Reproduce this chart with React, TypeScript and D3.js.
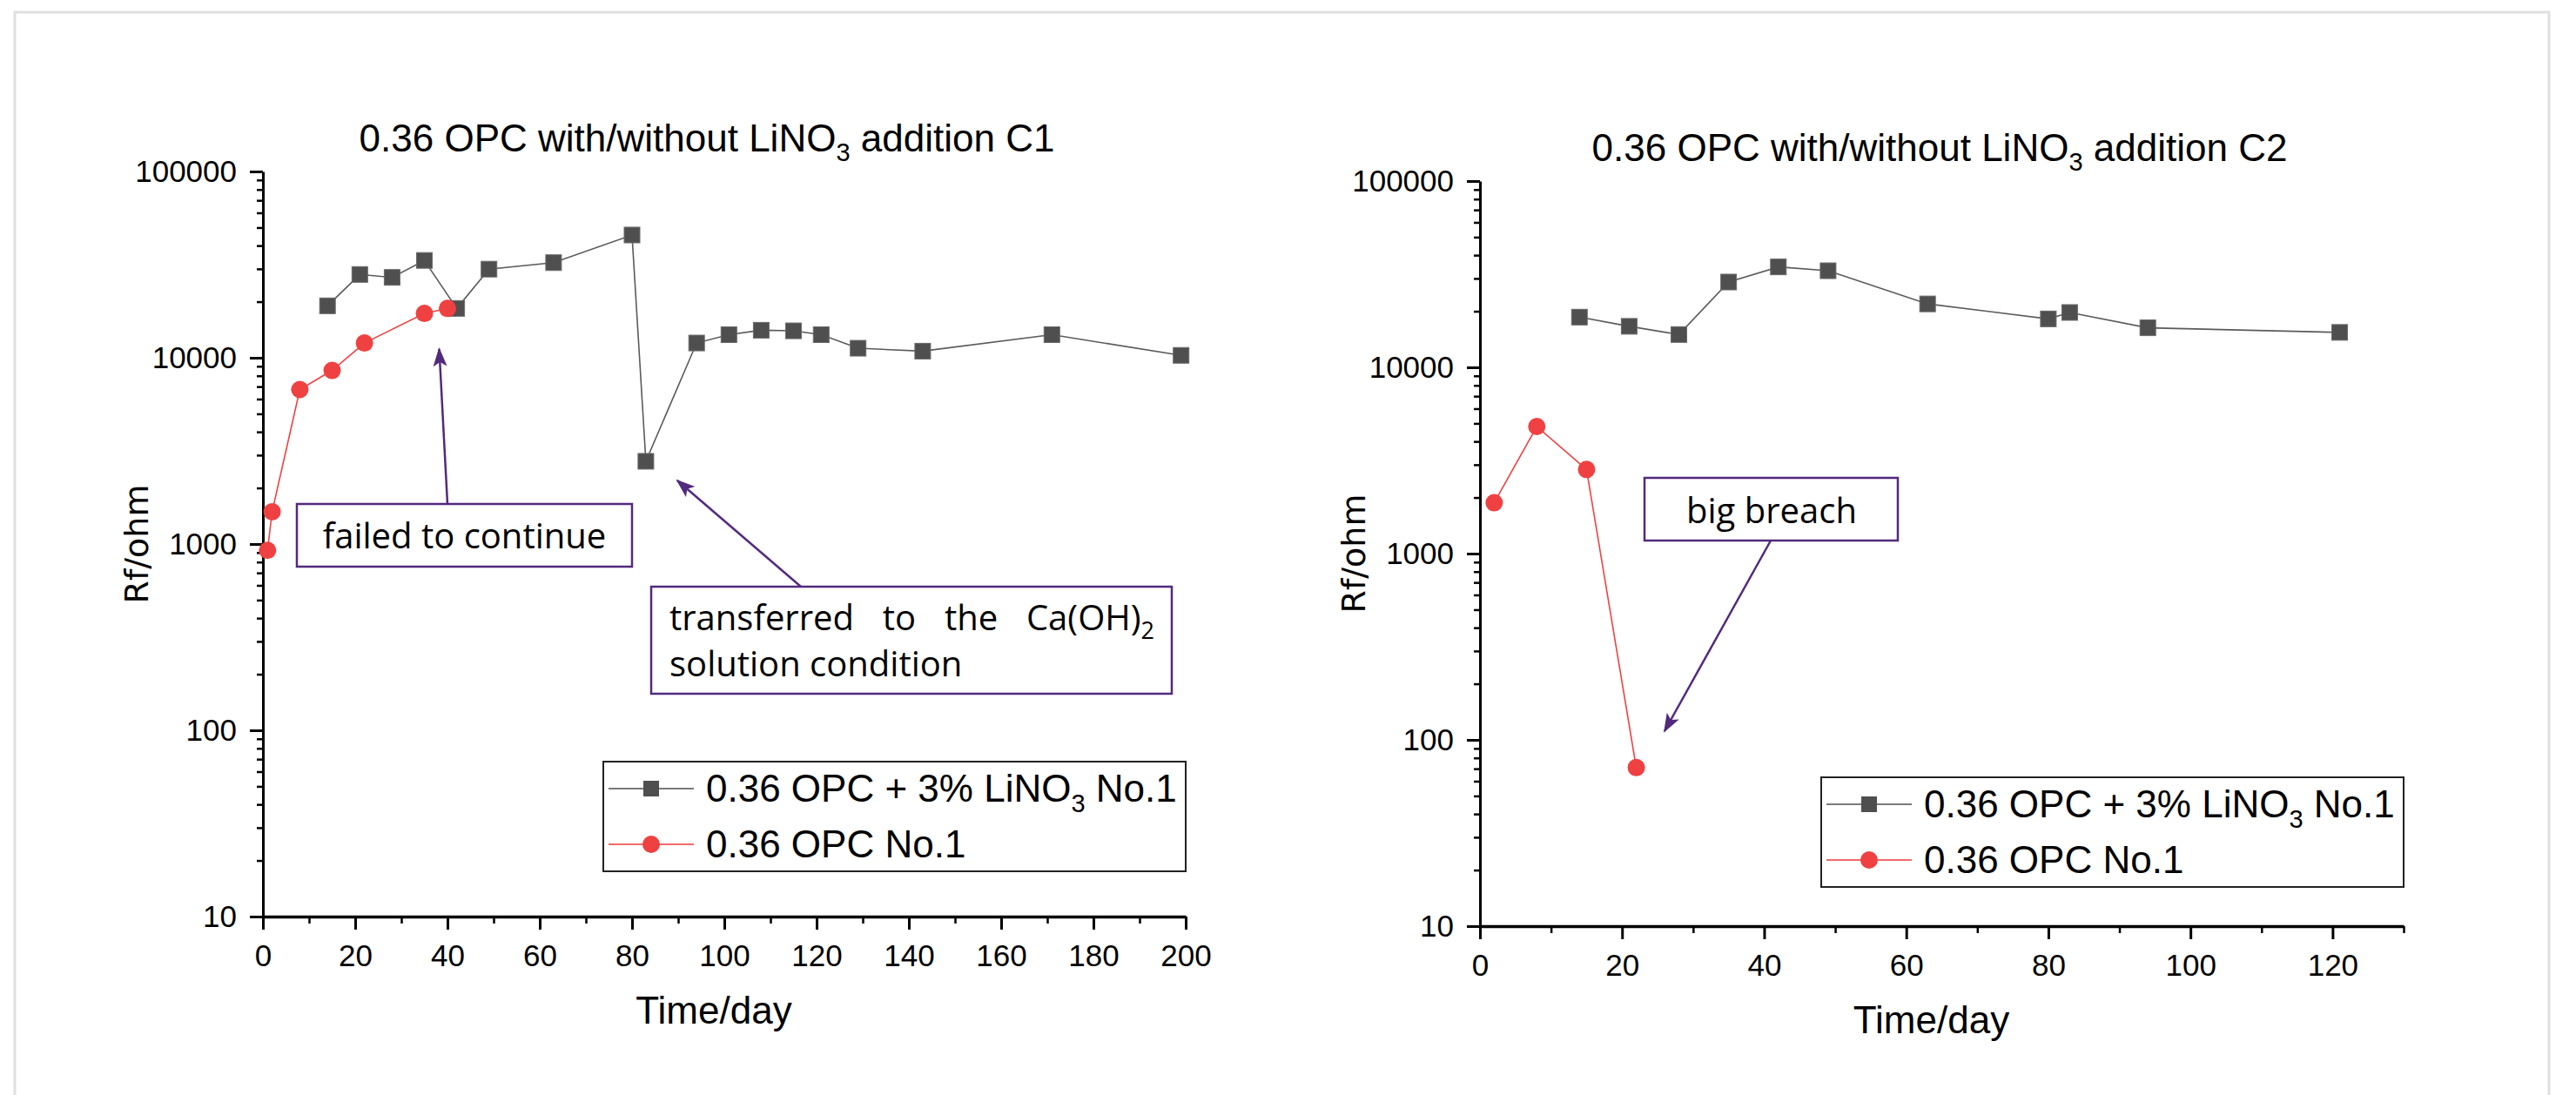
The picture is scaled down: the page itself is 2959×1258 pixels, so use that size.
import React, { useEffect, useRef } from 'react';
import * as d3 from 'd3';

const W = 2959;
const H = 1258;

// C1 panel data (day, ohm)
const c1LinoDays = [14, 21, 28, 35, 42, 49, 63, 80, 83, 94, 101, 108, 115, 121, 129, 143, 171, 199];
const c1LinoRf = [19000, 28000, 27000, 33300, 18400, 29900, 32400, 45600, 2780, 12000, 13300, 14050, 13950, 13300, 11250, 10850, 13300, 10300];
const c1OpcDays = [1, 2, 8, 15, 22, 35, 40];
const c1OpcRf = [925, 1490, 6750, 8550, 12000, 17300, 18400];

// C2 panel data
const c2LinoDays = [14, 21, 28, 35, 42, 49, 63, 80, 83, 94, 121];
const c2LinoRf = [18600, 16600, 15000, 28700, 34600, 33000, 21900, 18200, 19700, 16300, 15400];
const c2OpcDays = [2, 8, 15, 22];
const c2OpcRf = [1875, 4810, 2830, 71];

const yMajor = [10, 100, 1000, 10000, 100000];
const c1XTicks = [0, 20, 40, 60, 80, 100, 120, 140, 160, 180, 200];
const c2XTicks = [0, 20, 40, 60, 80, 100, 120];

const seriesNames = ['0.36 OPC + 3% LiNO', '0.36 OPC No.1'];

const GRAY = '#4f4f4f';
const RED = '#ef4141';
const PURPLE = '#522a7d';
const ARIAL = '"Liberation Sans", Arial, sans-serif';
const SEGOE = '"Open Sans", "Noto Sans", sans-serif';

const zip = (a: number[], b: number[]) => a.map((d, i) => [d, b[i]] as [number, number]);

function drawPanel(svg: any, p: any) {
  const x = d3.scaleLinear().domain(p.xDomain).range([p.left, p.right]);
  const y = d3.scaleLog().domain([10, 100000]).range([p.bottom, p.top]);
  const g = svg.append('g');

  // title
  const t = g.append('text')
    .attr('x', p.titleX).attr('y', p.titleY)
    .attr('text-anchor', 'middle')
    .style('font-family', ARIAL).style('font-size', '44px');
  t.append('tspan').text('0.36 OPC with/without LiNO');
  t.append('tspan').attr('dy', 11).style('font-size', '29px').text('3');
  t.append('tspan').attr('dy', -11).text(' addition ' + p.tag);

  // y axis
  const minor: number[] = [];
  for (let e = 10; e < 100000; e *= 10) for (let k = 2; k <= 9; k++) minor.push(e * k);
  const ya = g.append('g').attr('transform', `translate(${p.left},0)`)
    .call(d3.axisLeft(y).tickValues(yMajor).tickSize(15).tickSizeOuter(0).tickPadding(15).tickFormat(d3.format('d')));
  g.append('g').attr('transform', `translate(${p.left},0)`)
    .call(d3.axisLeft(y).tickValues(minor).tickSize(7).tickSizeOuter(0).tickFormat(() => ''))
    .call((s: any) => s.select('.domain').remove())
    .selectAll('line').attr('stroke-width', 2.5);
  ya.select('.domain').attr('stroke-width', 3);
  ya.selectAll('line').attr('stroke-width', 3);
  ya.selectAll('text').style('font-family', ARIAL).style('font-size', '35px').attr('fill', '#000');

  // x axis
  const xMinor = d3.range(p.xDomain[0] + 10, p.xDomain[1] + 1, 20);
  const xa = g.append('g').attr('transform', `translate(0,${p.bottom})`)
    .call(d3.axisBottom(x).tickValues(p.xTicks).tickSize(15).tickSizeOuter(0).tickPadding(17));
  g.append('g').attr('transform', `translate(0,${p.bottom})`)
    .call(d3.axisBottom(x).tickValues(xMinor).tickSize(8).tickSizeOuter(0).tickFormat(() => ''))
    .call((s: any) => s.select('.domain').remove())
    .selectAll('line').attr('stroke-width', 2.5);
  xa.select('.domain').attr('stroke-width', 3.5);
  xa.selectAll('line').attr('stroke-width', 3);
  xa.selectAll('text').style('font-family', ARIAL).style('font-size', '35px').attr('fill', '#000');

  // axis titles
  g.append('text')
    .attr('transform', `translate(${p.left - 132},${(p.top + p.bottom) / 2}) rotate(-90)`)
    .attr('text-anchor', 'middle')
    .style('font-family', '"DejaVu Sans", Verdana, sans-serif').style('font-size', '38px')
    .text('Rf/ohm');
  g.append('text')
    .attr('x', (p.left + p.right) / 2 - 12).attr('y', p.bottom + 123)
    .attr('text-anchor', 'middle')
    .style('font-family', ARIAL).style('font-size', '44px')
    .text('Time/day');

  // series
  const line = d3.line<[number, number]>().x(d => x(d[0])).y(d => y(d[1]));
  const lino = zip(p.linoDays, p.linoRf);
  const opc = zip(p.opcDays, p.opcRf);
  g.append('path').attr('d', line(lino)).attr('fill', 'none').attr('stroke', '#5a5a5a').attr('stroke-width', 1.6);
  g.selectAll('rect.pt').data(lino).enter().append('rect')
    .attr('x', d => x(d[0]) - 9).attr('y', d => y(d[1]) - 9)
    .attr('width', 18).attr('height', 18)
    .attr('fill', GRAY).attr('stroke', '#6a6a6a').attr('stroke-width', 1);
  g.append('path').attr('d', line(opc)).attr('fill', 'none').attr('stroke', RED).attr('stroke-width', 1.6);
  g.selectAll('circle.pt').data(opc).enter().append('circle')
    .attr('cx', d => x(d[0])).attr('cy', d => y(d[1])).attr('r', 10)
    .attr('fill', RED);

  // legend
  const lg = g.append('g').attr('transform', `translate(${p.right - 669},${p.legendTop})`);
  lg.append('rect').attr('width', 669).attr('height', 126)
    .attr('fill', '#fff').attr('stroke', '#222').attr('stroke-width', 2);
  [0, 1].forEach(i => {
    const cy = 31 + i * 64;
    lg.append('line').attr('x1', 6).attr('x2', 104).attr('y1', cy).attr('y2', cy)
      .attr('stroke', i === 0 ? '#7a7a7a' : '#f06a6a').attr('stroke-width', 2);
    if (i === 0) {
      lg.append('rect').attr('x', 46).attr('y', cy - 9).attr('width', 18).attr('height', 18).attr('fill', GRAY);
    } else {
      lg.append('circle').attr('cx', 55).attr('cy', cy).attr('r', 10).attr('fill', RED);
    }
    const tx = lg.append('text').attr('x', 118).attr('y', cy + 15)
      .style('font-family', ARIAL).style('font-size', '44px');
    tx.append('tspan').text(seriesNames[i]);
    if (i === 0) {
      tx.append('tspan').attr('dy', 12).style('font-size', '29px').text('3');
      tx.append('tspan').attr('dy', -12).text(' No.1');
    }
  });
}

function noteBox(svg: any, x0: number, y0: number, x1: number, y1: number) {
  svg.append('rect').attr('x', x0).attr('y', y0).attr('width', x1 - x0).attr('height', y1 - y0)
    .attr('fill', '#fff').attr('stroke', PURPLE).attr('stroke-width', 2.5);
}

function arrow(svg: any, x0: number, y0: number, x1: number, y1: number) {
  svg.append('line').attr('x1', x0).attr('y1', y0).attr('x2', x1).attr('y2', y1)
    .attr('stroke', PURPLE).attr('stroke-width', 2.5).attr('marker-end', 'url(#ah)');
}

export default function App() {
  const ref = useRef<SVGSVGElement>(null);

  useEffect(() => {
    const svg = d3.select(ref.current);
    svg.selectAll('*').remove();

    svg.append('defs').append('marker')
      .attr('id', 'ah').attr('markerUnits', 'userSpaceOnUse')
      .attr('markerWidth', 24).attr('markerHeight', 18)
      .attr('refX', 20).attr('refY', 8).attr('orient', 'auto')
      .append('path').attr('d', 'M0,0 L22,8 L0,16 L5,8 z').attr('fill', PURPLE);

    svg.append('rect').attr('width', W).attr('height', H).attr('fill', '#fff');
    svg.append('rect').attr('x', 17).attr('y', 14).attr('width', 2911).attr('height', 1300)
      .attr('fill', 'none').attr('stroke', '#e0e0e0').attr('stroke-width', 3);

    drawPanel(svg, {
      tag: 'C1', xDomain: [0, 200], xTicks: c1XTicks,
      left: 302, right: 1362, top: 197, bottom: 1053,
      titleX: 812, titleY: 174, legendTop: 875,
      linoDays: c1LinoDays, linoRf: c1LinoRf, opcDays: c1OpcDays, opcRf: c1OpcRf,
    });
    drawPanel(svg, {
      tag: 'C2', xDomain: [0, 130], xTicks: c2XTicks,
      left: 1700, right: 2761, top: 208, bottom: 1064,
      titleX: 2228, titleY: 185, legendTop: 893,
      linoDays: c2LinoDays, linoRf: c2LinoRf, opcDays: c2OpcDays, opcRf: c2OpcRf,
    });

    // annotations C1
    arrow(svg, 514, 579, 504.5, 401);
    noteBox(svg, 341, 579, 726, 651);
    svg.append('text').attr('x', 533.5).attr('y', 630).attr('text-anchor', 'middle')
      .style('font-family', SEGOE).style('font-size', '40px').text('failed to continue');

    arrow(svg, 920, 674, 778, 552);
    noteBox(svg, 748, 674, 1346, 797);
    const words = ['transferred', 'to', 'the'];
    const nodes: any[] = words.map(w => svg.append('text').attr('y', 724)
      .style('font-family', SEGOE).style('font-size', '40px').text(w));
    const last = svg.append('text').attr('y', 724).style('font-family', SEGOE).style('font-size', '40px');
    last.append('tspan').text('Ca(OH)');
    last.append('tspan').attr('dy', 10).style('font-size', '27px').text('2');
    nodes.push(last);
    const widths = nodes.map(n => (n.node() as SVGTextElement).getComputedTextLength());
    const left = 769, right = 1326;
    const gap = (right - left - d3.sum(widths)) / (nodes.length - 1);
    let cx = left;
    nodes.forEach((n, i) => { n.attr('x', cx); cx += widths[i] + gap; });
    svg.append('text').attr('x', 769).attr('y', 777)
      .style('font-family', SEGOE).style('font-size', '40px').text('solution condition');

    // annotation C2
    arrow(svg, 2034, 621, 1912, 840);
    noteBox(svg, 1889, 549, 2180, 621);
    svg.append('text').attr('x', 2035).attr('y', 601).attr('text-anchor', 'middle')
      .style('font-family', SEGOE).style('font-size', '40px').text('big breach');
  }, []);

  return (
    <svg ref={ref} width={W} height={H}
      style={{ position: 'absolute', left: 0, top: 0, display: 'block' }} />
  );
}
